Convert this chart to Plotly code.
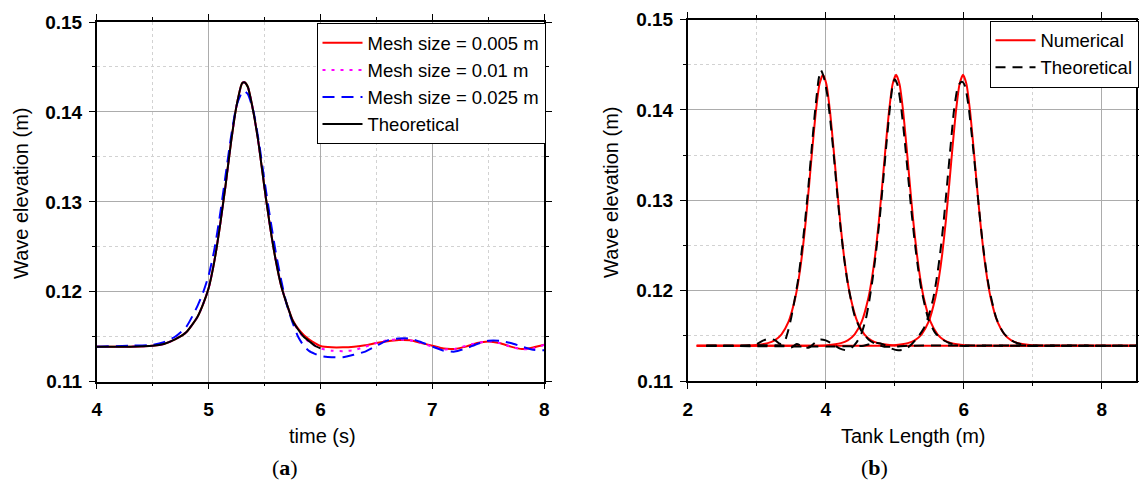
import plotly.graph_objects as go

W, H = 1139, 480

# ---------------- (a) data: wave elevation vs time ----------------
t_theo = [4.0, 4.3, 4.5, 4.6, 4.7, 4.8, 4.9, 4.95, 5.0, 5.05, 5.1, 5.15, 5.2, 5.25,
          5.3, 5.32, 5.35, 5.4, 5.45, 5.5, 5.55, 5.6, 5.65, 5.7, 5.75, 5.8, 5.85,
          5.9, 5.95, 6.0]
eta_theo = [0.1139, 0.1139, 0.1140, 0.1142, 0.1147, 0.1155, 0.1172, 0.1186, 0.1204,
            0.1233, 0.1272, 0.1317, 0.1366, 0.1407, 0.1432, 0.1433, 0.1428, 0.1400,
            0.1362, 0.1315, 0.1272, 0.1235, 0.1206, 0.1186, 0.1168, 0.1158, 0.1150,
            0.1145, 0.1140, 0.1137]

t_mesh = [4.0, 4.3, 4.5, 4.6, 4.7, 4.8, 4.9, 4.95, 5.0, 5.05, 5.1, 5.15, 5.2, 5.25,
          5.3, 5.32, 5.35, 5.4, 5.45, 5.5, 5.55, 5.6, 5.65, 5.7, 5.75, 5.8, 5.85,
          5.9, 5.95, 6.0, 6.1, 6.2, 6.3, 6.4, 6.5, 6.6, 6.7, 6.8, 6.9, 7.0, 7.1,
          7.2, 7.3, 7.4, 7.5, 7.6, 7.7, 7.8, 7.9, 8.0]
eta_005 = [0.1139, 0.1139, 0.1140, 0.1142, 0.1147, 0.1155, 0.1172, 0.1186, 0.1204,
           0.1233, 0.1272, 0.1317, 0.1366, 0.1407, 0.1432, 0.1433, 0.1428, 0.1400,
           0.1362, 0.1315, 0.1272, 0.1235, 0.1206, 0.1186, 0.1169, 0.1159, 0.1152,
           0.1147, 0.1143, 0.11397, 0.11382, 0.11382, 0.1139, 0.11405, 0.1143,
           0.1145, 0.11463, 0.1146, 0.1143, 0.1140, 0.11368, 0.11365, 0.1139,
           0.1143, 0.11448, 0.1143, 0.1139, 0.11363, 0.1138, 0.1141]
eta_01 = [0.1139, 0.1139, 0.1140, 0.1142, 0.1147, 0.1155, 0.1172, 0.1186, 0.1204,
          0.1233, 0.1272, 0.1317, 0.1366, 0.1407, 0.1432, 0.1433, 0.1428, 0.1400,
          0.1362, 0.1315, 0.1272, 0.1235, 0.1206, 0.1186, 0.1168, 0.1157, 0.1149,
          0.1144, 0.1140, 0.1137, 0.11345, 0.1134, 0.1135, 0.1139, 0.1143, 0.1146,
          0.1147, 0.1146, 0.1143, 0.1139, 0.1136, 0.11365, 0.1140, 0.1143, 0.1145,
          0.1143, 0.1139, 0.1136, 0.1137, 0.1141]
eta_025 = [0.1139, 0.1140, 0.1141, 0.1144, 0.1150, 0.1161, 0.1184, 0.1199, 0.1218,
           0.1246, 0.1284, 0.1328, 0.1372, 0.1407, 0.1422, 0.1423, 0.1420, 0.1401,
           0.1366, 0.1323, 0.1282, 0.1244, 0.1212, 0.1185, 0.1166, 0.1150, 0.1140,
           0.1134, 0.1131, 0.11285, 0.11272, 0.11272, 0.1130, 0.11335, 0.1140,
           0.1146, 0.1148, 0.1148, 0.1144, 0.1139, 0.11345, 0.11335, 0.1137,
           0.1142, 0.11455, 0.11455, 0.1143, 0.1139, 0.11355, 0.1135]

# ---------------- (b) data: wave elevation along tank ----------------
x_num1 = [2.13, 2.76, 2.96, 3.16, 3.26, 3.36, 3.46, 3.56, 3.61, 3.66, 3.71, 3.76, 3.81,
          3.86, 3.91, 3.96, 4.01, 4.06, 4.11, 4.16, 4.21, 4.26, 4.31, 4.36, 4.46, 4.56,
          4.66, 4.76, 4.96, 5.16, 8.5]
x_num2 = [2.13, 3.82, 4.02, 4.22, 4.32, 4.42, 4.52, 4.62, 4.67, 4.72, 4.77, 4.82, 4.87,
          4.92, 4.97, 5.02, 5.07, 5.12, 5.17, 5.22, 5.27, 5.32, 5.37, 5.42, 5.52, 5.62,
          5.72, 5.82, 6.02, 6.22, 8.5]
x_num3 = [2.13, 4.79, 4.99, 5.19, 5.29, 5.39, 5.49, 5.59, 5.64, 5.69, 5.74, 5.79, 5.84,
          5.89, 5.94, 5.99, 6.04, 6.09, 6.14, 6.19, 6.24, 6.29, 6.34, 6.39, 6.49, 6.59,
          6.69, 6.79, 6.99, 7.19, 8.5]
eta_num1 = [0.1139, 0.1139, 0.11396, 0.11419, 0.1145, 0.11517, 0.11653, 0.11924, 0.12136,
            0.12413, 0.12764, 0.13172, 0.13604, 0.1400, 0.14285, 0.1439, 0.14285, 0.1400,
            0.13604, 0.13172, 0.12764, 0.12413, 0.12136, 0.11924, 0.11653, 0.11517,
            0.1145, 0.11419, 0.11396, 0.1139, 0.1139]
eta_num2 = [0.1139, 0.1139, 0.11396, 0.11419, 0.1145, 0.11517, 0.11653, 0.11924, 0.12136,
            0.12413, 0.12764, 0.13172, 0.13604, 0.1400, 0.14285, 0.1439, 0.14285, 0.1400,
            0.13604, 0.13172, 0.12764, 0.12413, 0.12136, 0.11924, 0.11653, 0.11517,
            0.1145, 0.11419, 0.11396, 0.1139, 0.1139]
eta_num3 = [0.1139, 0.1139, 0.11396, 0.11419, 0.1145, 0.11517, 0.11653, 0.11924, 0.12136,
            0.12413, 0.12764, 0.13172, 0.13604, 0.1400, 0.14285, 0.1439, 0.14285, 0.1400,
            0.13604, 0.13172, 0.12764, 0.12413, 0.12136, 0.11924, 0.11653, 0.11517,
            0.1145, 0.11419, 0.11396, 0.1139, 0.1139]

x_th1 = [2.27, 2.9, 3.0, 3.1, 3.19, 3.27, 3.34, 3.40, 3.45, 3.50, 3.55, 3.60, 3.65, 3.70,
         3.75, 3.80, 3.85, 3.90, 3.93, 3.97, 4.02, 4.07, 4.12, 4.17, 4.22, 4.27, 4.32,
         4.42, 4.52, 4.62, 4.72, 4.85, 5.0, 5.2, 8.5]
eta_th1 = [0.1139, 0.1139, 0.1141, 0.1145, 0.1147, 0.1145, 0.1141, 0.1143, 0.1154, 0.1170,
           0.1190, 0.1212, 0.1242, 0.1276, 0.1316, 0.1360, 0.1402, 0.1435, 0.1444, 0.1437,
           0.1418, 0.1386, 0.1347, 0.1305, 0.1266, 0.1234, 0.1208, 0.1172, 0.1155, 0.1146,
           0.1141, 0.1138, 0.1138, 0.1139, 0.1139]
x_th2 = [2.27, 3.40, 3.50, 3.58, 3.67, 3.76, 3.84, 3.92, 4.0, 4.1, 4.2, 4.3, 4.38, 4.45,
         4.52, 4.58, 4.63, 4.68, 4.73, 4.78, 4.83, 4.88, 4.93, 4.97, 5.0, 5.04, 5.09, 5.14,
         5.19, 5.24, 5.29, 5.34, 5.39, 5.49, 5.59, 5.69, 5.79, 5.95, 6.2, 8.5]
eta_th2 = [0.1139, 0.1139, 0.1137, 0.1141, 0.1138, 0.1137, 0.1142, 0.1146, 0.1145, 0.1141,
           0.1136, 0.1134, 0.1137, 0.1143, 0.1153, 0.1168, 0.1188, 0.1213, 0.1243, 0.1278,
           0.1319, 0.1362, 0.1402, 0.1427, 0.1434, 0.1428, 0.1405, 0.1370, 0.1330, 0.1290,
           0.1254, 0.1224, 0.1200, 0.1168, 0.1153, 0.1146, 0.1142, 0.1139, 0.1139, 0.1139]
x_th3 = [2.27, 4.55, 4.65, 4.75, 4.85, 4.95, 5.05, 5.15, 5.25, 5.35, 5.42, 5.5, 5.56, 5.61,
         5.66, 5.71, 5.76, 5.81, 5.86, 5.91, 5.95, 5.98, 6.02, 6.07, 6.12, 6.17, 6.22, 6.27,
         6.32, 6.37, 6.47, 6.57, 6.67, 6.77, 6.95, 7.2, 8.5]
eta_th3 = [0.1139, 0.1139, 0.1141, 0.1142, 0.1140, 0.1136, 0.1134, 0.1135, 0.1141, 0.1150,
           0.1158, 0.1174, 0.1192, 0.1214, 0.1242, 0.1277, 0.1318, 0.1360, 0.1400, 0.1424,
           0.1430, 0.1431, 0.1426, 0.1404, 0.1370, 0.1332, 0.1292, 0.1256, 0.1226, 0.1202,
           0.1170, 0.1154, 0.1146, 0.1142, 0.1139, 0.1139, 0.1139]

x_ticks_a = [4, 5, 6, 7, 8]
x_ticks_b = [2, 4, 6, 8]
y_ticks = [0.11, 0.12, 0.13, 0.14, 0.15]

# ---------------- figure ----------------
fig = go.Figure()
LW = 2

def add(x, y, color, dash, name, xa, ya, legend, show=True):
    fig.add_trace(go.Scatter(x=x, y=y, mode="lines", name=name, xaxis=xa, yaxis=ya,
                             line=dict(color=color, width=LW, dash=dash, shape="spline",
                                       smoothing=0.6),
                             legend=legend, showlegend=show))

add(t_mesh, eta_005, "#ff0000", "solid", "Mesh size = 0.005 m", "x", "y", "legend")
add(t_mesh, eta_01, "#ff00ff", "3px,6px", "Mesh size = 0.01 m", "x", "y", "legend")
add(t_mesh, eta_025, "#0000ff", "12px,7px", "Mesh size = 0.025 m", "x", "y", "legend")
add(t_theo, eta_theo, "#000000", "solid", "Theoretical", "x", "y", "legend")

add(x_num1, eta_num1, "#ff0000", "solid", "Numerical", "x2", "y2", "legend2", True)
add(x_num2, eta_num2, "#ff0000", "solid", "Numerical", "x2", "y2", "legend2", False)
add(x_num3, eta_num3, "#ff0000", "solid", "Numerical", "x2", "y2", "legend2", False)
add(x_th1, eta_th1, "#000000", "10px,7px", "Theoretical", "x2", "y2", "legend2", True)
add(x_th2, eta_th2, "#000000", "10px,7px", "Theoretical", "x2", "y2", "legend2", False)
add(x_th3, eta_th3, "#000000", "10px,7px", "Theoretical", "x2", "y2", "legend2", False)

tickfont = dict(family="Liberation Sans, Arial", size=19, color="black", weight="bold")
GRID = "#acacac"
MINGRID = "#d2d2d2"

def xax(domain, rng, tv, minor_dtick, anchor):
    return dict(domain=domain, range=rng, tickvals=tv, ticktext=[str(v) for v in tv],
                showline=True, linecolor="black", linewidth=1.5, mirror="ticks",
                ticks="outside", ticklen=6, tickwidth=1.3, tickcolor="black",
                showgrid=True, gridcolor=GRID, gridwidth=1,
                minor=dict(dtick=minor_dtick, tick0=0, ticks="outside", ticklen=3,
                           tickcolor="black", tickwidth=1.2, showgrid=True,
                           gridcolor=MINGRID, griddash="dot", gridwidth=1),
                tickfont=tickfont, zeroline=False, anchor=anchor, automargin=False,
                ticklabelstandoff=4)

def yax(domain, anchor):
    return dict(domain=domain, range=[0.11, 0.15], tickvals=y_ticks,
                ticktext=["%.2f" % v for v in y_ticks],
                showline=True, linecolor="black", linewidth=1.5, mirror="ticks",
                ticks="outside", ticklen=6, tickwidth=1.3, tickcolor="black",
                showgrid=True, gridcolor=GRID, gridwidth=1,
                minor=dict(dtick=0.005, tick0=0.11, ticks="outside", ticklen=3,
                           tickcolor="black", tickwidth=1.2, showgrid=True,
                           gridcolor=MINGRID, griddash="dot", gridwidth=1),
                tickfont=tickfont, zeroline=False, anchor=anchor, automargin=False,
                ticklabelstandoff=3)

legfont = dict(family="Liberation Sans, Arial", size=18.5, color="black")

fig.update_layout(
    width=W, height=H, margin=dict(l=0, r=0, t=0, b=0),
    paper_bgcolor="white", plot_bgcolor="white",
    xaxis=xax([96.7 / W, 544.3 / W], [4, 8], x_ticks_a, 0.5, "y"),
    yaxis=yax([1 - 381.7 / H, 1 - 22 / H], "x"),
    xaxis2=xax([687.7 / W, 1136.2 / W], [2, 8.5], x_ticks_b, 1, "y2"),
    yaxis2=yax([1 - 381 / H, 1 - 19.5 / H], "x2"),
    legend=dict(x=545.5 / W, y=1 - 23.3 / H, xanchor="right", yanchor="top",
                bgcolor="white", bordercolor="black", borderwidth=1, font=legfont,
                itemwidth=40, tracegroupgap=0),
    legend2=dict(x=1138.5 / W, y=1 - 20.7 / H, xanchor="right", yanchor="top",
                 bgcolor="white", bordercolor="black", borderwidth=1, font=legfont,
                 itemwidth=40, tracegroupgap=0),
    showlegend=True,
)

titlefont = dict(family="Liberation Sans, Arial", size=20, color="black")
ann = [
    dict(text="Wave elevation (m)", x=21 / W, y=1 - 193 / H, textangle=-90, font=titlefont),
    dict(text="time (s)", x=322 / W, y=1 - 436 / H, font=titlefont),
    dict(text="Wave elevation (m)", x=611 / W, y=1 - 192 / H, textangle=-90, font=titlefont),
    dict(text="Tank Length (m)", x=913 / W, y=1 - 436 / H, font=titlefont),
    dict(text="(<b>a</b>)", x=285 / W, y=1 - 467 / H,
         font=dict(family="Liberation Serif, serif", size=22, color="black")),
    dict(text="(<b>b</b>)", x=874 / W, y=1 - 467 / H,
         font=dict(family="Liberation Serif, serif", size=22, color="black")),
]
for a in ann:
    a.update(xref="paper", yref="paper", showarrow=False, xanchor="center", yanchor="middle")
fig.update_layout(annotations=ann)

fig.write_html("out.html")
